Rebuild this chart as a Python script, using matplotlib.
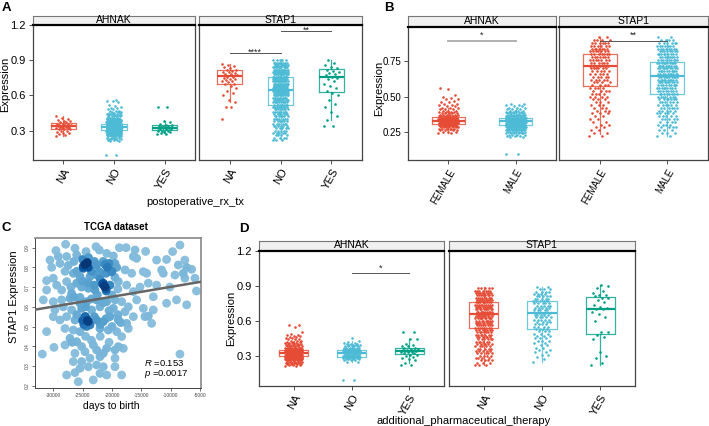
import numpy as np
import matplotlib
matplotlib.use('Agg')
import matplotlib.pyplot as plt
from matplotlib import cm

plt.rcParams['font.family'] = ['Liberation Sans', 'DejaVu Sans']
plt.rcParams['mathtext.fontset'] = 'custom'
plt.rcParams['mathtext.it'] = 'Liberation Sans:italic'
plt.rcParams['mathtext.rm'] = 'Liberation Sans'

# ---------------- data ----------------
genes = ['AHNAK', 'STAP1']
a_groups = ['NA', 'NO', 'YES']
b_groups = ['FEMALE', 'MALE']
d_groups = ['NA', 'NO', 'YES']
col3 = ['#E64B35', '#4DBBD5', '#00A087']

# box stats (whislo, q1, median, q3, whishi)
A_BOX_AHNAK = [(0.25, 0.311, 0.340, 0.363, 0.42), (0.235, 0.306, 0.331, 0.354, 0.425), (0.27, 0.306, 0.326, 0.346, 0.38)]
A_BOX_STAP1 = [(0.54, 0.700, 0.763, 0.817, 0.87), (0.22, 0.517, 0.649, 0.757, 0.91), (0.39, 0.631, 0.757, 0.829, 0.90)]
B_BOX_AHNAK = [(0.24, 0.302, 0.328, 0.352, 0.42), (0.22, 0.295, 0.323, 0.347, 0.42)]
B_BOX_STAP1 = [(0.235, 0.572, 0.714, 0.800, 0.92), (0.22, 0.520, 0.643, 0.748, 0.91)]
D_BOX_AHNAK = [(0.22, 0.297, 0.326, 0.351, 0.43), (0.25, 0.291, 0.326, 0.346, 0.43), (0.24, 0.311, 0.340, 0.369, 0.44)]
D_BOX_STAP1 = [(0.22, 0.537, 0.660, 0.763, 0.89), (0.25, 0.526, 0.671, 0.774, 0.89), (0.22, 0.483, 0.700, 0.806, 0.91)]

# jittered points: explicit values, or (levels, counts)
A_AHNAK_NA = [0.25, 0.26, 0.27, 0.28, 0.28, 0.29, 0.30, 0.30, 0.31, 0.31, 0.31, 0.32, 0.32, 0.32, 0.33, 0.33, 0.33,
              0.33, 0.34, 0.34, 0.34, 0.35, 0.35, 0.35, 0.36, 0.36, 0.36, 0.37, 0.37, 0.38, 0.38, 0.39, 0.40, 0.41, 0.42]
A_AHNAK_NO_LV = [0.09, 0.21, 0.22, 0.23, 0.24, 0.25, 0.26, 0.27, 0.28, 0.29, 0.30, 0.31, 0.32, 0.33, 0.34, 0.35, 0.36,
                 0.37, 0.38, 0.39, 0.40, 0.41, 0.42, 0.43, 0.44, 0.45, 0.46, 0.47, 0.48, 0.49, 0.50, 0.51, 0.52, 0.54, 0.55, 0.56]
A_AHNAK_NO_CT = [2, 2, 3, 4, 5, 7, 9, 11, 14, 17, 20, 22, 24, 24, 22, 20, 17,
                 14, 11, 9, 7, 6, 5, 4, 4, 3, 3, 3, 2, 2, 1, 1, 1, 1, 2, 1]
A_AHNAK_YES = [0.27, 0.27, 0.28, 0.29, 0.29, 0.30, 0.30, 0.30, 0.31, 0.31, 0.31, 0.32, 0.32, 0.32, 0.32, 0.33, 0.33,
               0.33, 0.34, 0.34, 0.34, 0.35, 0.35, 0.36, 0.37, 0.38, 0.50, 0.50]
A_STAP1_NA = [0.40, 0.50, 0.50, 0.54, 0.56, 0.60, 0.62, 0.64, 0.66, 0.68, 0.70, 0.70, 0.71, 0.72, 0.72, 0.73, 0.74, 0.74,
              0.75, 0.76, 0.76, 0.77, 0.78, 0.78, 0.79, 0.80, 0.80, 0.81, 0.82, 0.82, 0.83, 0.84, 0.85, 0.86, 0.87]
A_STAP1_NO_LV = [0.22, 0.24, 0.26, 0.28, 0.30, 0.32, 0.34, 0.36, 0.38, 0.40, 0.42, 0.44, 0.46, 0.48, 0.50, 0.52, 0.54, 0.56,
                 0.58, 0.60, 0.62, 0.64, 0.66, 0.68, 0.70, 0.72, 0.74, 0.76, 0.78, 0.80, 0.82, 0.84, 0.86, 0.88, 0.90]
A_STAP1_NO_CT = [3, 4, 4, 5, 5, 5, 6, 6, 6, 7, 7, 7, 8, 8, 9, 9, 10, 10,
                 11, 12, 12, 13, 13, 14, 14, 14, 14, 14, 14, 13, 13, 12, 11, 9, 5]
A_STAP1_YES = [0.34, 0.34, 0.39, 0.42, 0.46, 0.50, 0.53, 0.56, 0.60, 0.62, 0.64, 0.66, 0.68, 0.70, 0.72, 0.74, 0.75,
               0.76, 0.77, 0.78, 0.79, 0.80, 0.81, 0.82, 0.83, 0.84, 0.86, 0.88, 0.90]

B_AHNAK_F_LV = [0.24, 0.25, 0.26, 0.27, 0.28, 0.29, 0.30, 0.31, 0.32, 0.33, 0.34, 0.35, 0.36, 0.37, 0.38, 0.39, 0.40,
                0.41, 0.42, 0.43, 0.44, 0.45, 0.46, 0.47, 0.48, 0.49, 0.50, 0.51, 0.55, 0.56]
B_AHNAK_F_CT = [2, 3, 4, 6, 7, 9, 11, 12, 13, 13, 12, 10, 8, 6, 5, 4, 3,
                3, 3, 2, 2, 2, 2, 1, 2, 1, 1, 1, 1, 1]
B_AHNAK_M_LV = [0.09, 0.21, 0.22, 0.23, 0.24, 0.25, 0.26, 0.27, 0.28, 0.29, 0.30, 0.31, 0.32, 0.33, 0.34, 0.35, 0.36,
                0.37, 0.38, 0.39, 0.40, 0.41, 0.42, 0.43, 0.44, 0.45]
B_AHNAK_M_CT = [2, 2, 3, 4, 6, 8, 10, 13, 16, 19, 21, 22, 22, 20, 18, 15, 12,
                9, 7, 5, 4, 3, 3, 2, 2, 2]
B_STAP1_LV = [0.22, 0.24, 0.26, 0.28, 0.30, 0.32, 0.34, 0.36, 0.38, 0.40, 0.42, 0.44, 0.46, 0.48, 0.50, 0.52, 0.54, 0.56,
              0.58, 0.60, 0.62, 0.64, 0.66, 0.68, 0.70, 0.72, 0.74, 0.76, 0.78, 0.80, 0.82, 0.84, 0.86, 0.88, 0.90, 0.92]
B_STAP1_F_CT = [2, 2, 2, 2, 2, 2, 2, 2, 3, 3, 3, 3, 3, 3, 4, 4, 4, 4,
                4, 4, 5, 5, 5, 5, 6, 6, 6, 7, 7, 7, 7, 7, 6, 6, 4, 2]
B_STAP1_M_CT = [2, 3, 3, 4, 4, 4, 5, 5, 5, 5, 6, 6, 6, 7, 7, 8, 8, 9,
                9, 10, 10, 10, 10, 10, 10, 10, 10, 9, 9, 9, 8, 8, 7, 6, 4, 2]

D_AHNAK_NA_LV = [0.21, 0.22, 0.23, 0.24, 0.25, 0.26, 0.27, 0.28, 0.29, 0.30, 0.31, 0.32, 0.33, 0.34, 0.35, 0.36, 0.37,
                 0.38, 0.39, 0.40, 0.41, 0.42, 0.43, 0.44, 0.45, 0.46, 0.47, 0.48, 0.49, 0.50, 0.55, 0.56]
D_AHNAK_NA_CT = [2, 3, 4, 6, 8, 10, 13, 16, 18, 20, 21, 21, 20, 18, 15, 12, 9,
                 7, 5, 4, 4, 3, 3, 3, 2, 2, 2, 2, 1, 1, 1, 2]
D_AHNAK_NO_LV = [0.09, 0.25, 0.26, 0.27, 0.28, 0.29, 0.30, 0.31, 0.32, 0.33, 0.34, 0.35, 0.36, 0.37, 0.38, 0.39, 0.40,
                 0.41, 0.42, 0.43, 0.45]
D_AHNAK_NO_CT = [2, 2, 3, 4, 6, 8, 10, 11, 12, 12, 11, 9, 7, 6, 5, 4, 3,
                 2, 1, 1, 1]
D_AHNAK_YES = [0.22, 0.22, 0.24, 0.26, 0.27, 0.28, 0.29, 0.30, 0.31, 0.31, 0.32, 0.32, 0.33, 0.33, 0.33, 0.34, 0.34,
               0.34, 0.35, 0.35, 0.35, 0.36, 0.36, 0.37, 0.37, 0.38, 0.38, 0.39, 0.40, 0.44, 0.44, 0.50, 0.50]
D_STAP1_NA_LV = [0.22, 0.24, 0.26, 0.28, 0.30, 0.32, 0.34, 0.36, 0.38, 0.40, 0.42, 0.44, 0.46, 0.48, 0.50, 0.52, 0.54,
                 0.56, 0.58, 0.60, 0.62, 0.64, 0.66, 0.68, 0.70, 0.72, 0.74, 0.76, 0.78, 0.80, 0.82, 0.84, 0.86, 0.88]
D_STAP1_NA_CT = [3, 3, 4, 4, 4, 5, 5, 5, 5, 6, 6, 6, 6, 7, 7, 7, 8,
                 8, 9, 9, 10, 10, 10, 10, 10, 10, 10, 10, 10, 9, 9, 8, 7, 5]
D_STAP1_NO_LV = [0.25, 0.27, 0.29, 0.31, 0.33, 0.35, 0.37, 0.39, 0.41, 0.43, 0.45, 0.47, 0.49, 0.51, 0.53, 0.55, 0.57,
                 0.59, 0.61, 0.63, 0.65, 0.67, 0.69, 0.71, 0.73, 0.75, 0.77, 0.79, 0.81, 0.83, 0.85, 0.87, 0.89]
D_STAP1_NO_CT = [1, 1, 1, 2, 2, 2, 2, 2, 2, 3, 3, 3, 3, 3, 4, 4, 4,
                 4, 5, 5, 5, 5, 5, 5, 5, 5, 5, 5, 5, 4, 4, 3, 2]
D_STAP1_YES = [0.22, 0.24, 0.28, 0.30, 0.33, 0.44, 0.46, 0.48, 0.50, 0.50, 0.60, 0.63, 0.66, 0.68, 0.70, 0.70, 0.71,
               0.72, 0.74, 0.76, 0.78, 0.80, 0.80, 0.81, 0.82, 0.82, 0.84, 0.86, 0.88, 0.90, 0.91]

# panel C scatter: days to birth vs STAP1 expression
c_days = [-27900, -26300, -29550, -30570, -18750, -17600, -16080, -14270, -8420, -9670, -22160, -22730, -24430,
          -20900, -19770, -29150, -27730, -26020, -16360, -10700, -7580, -12400, -15800,
          -30280, -28860, -27440, -24320, -24030, -24880, -22620, -19490, -19200, -20060, -17780, -16650, -14660,
          -14100, -11540, -11260, -8700, -7280, -6430, -7850, -9270, -26590, -22160, -25450, -23750,
          -31140, -30000, -29430, -27730, -26020, -25170, -24030, -21480, -21190, -20340, -22900, -18920, -17500,
          -16360, -15230, -13810, -12400, -10130, -7580, -5860, -5600, -31140, -28580, -26880, -12960, -10700,
          -9000, -7280,
          -31700, -30000, -28580, -27160, -25450, -24320, -22620, -20910, -19490, -18350, -17220, -15800, -14660,
          -12960, -29720, -28300, -26880, -25170, -23470, -22050, -19770, -17780, -16360, -14380, -13810, -13240,
          -31140, -30000, -28860, -27730, -26310, -24600, -24030, -24320, -23750, -22620, -21480, -20340, -18920,
          -17500, -28010, -26590, -25450, -22050, -20630, -19200, -18350, -17220,
          -31870, -29890, -28010, -27160, -26020, -25170, -24600, -23190, -22620, -22050, -21480, -20910, -19490,
          -18920, -18070, -19490, -8420, -26310, -23750,
          -26590, -25170, -24030, -22620, -21480, -27730, -26310, -25740, -23190, -22050, -20910, -19490, -18350,
          -25450,
          -25000, -24000, -23000, -21500, -20500, -26000, -23500, -22500, -21000, -19500, -25000, -24000, -23000,
          -22000, -21000, -20000, -19000, -26500, -25500, -24500, -23500, -22500, -21500, -20500, -19000, -26000,
          -25000, -24500, -23000, -22000, -21000, -20000, -18500, -24800, -24200, -24600, -24200, -24900, -21300,
          -21600, -21000, -20800, -21200, -20000, -27000, -28000, -26500, -22000, -23500, -24500, -26800, -20500]
c_expr = [0.917, 0.897, 0.885, 0.837, 0.900, 0.900, 0.888, 0.881, 0.913, 0.880, 0.888, 0.905, 0.880,
          0.871, 0.858, 0.855, 0.855, 0.863, 0.855, 0.840, 0.837, 0.837, 0.846,
          0.800, 0.820, 0.810, 0.820, 0.800, 0.795, 0.812, 0.820, 0.800, 0.778, 0.787, 0.770, 0.778,
          0.770, 0.787, 0.770, 0.812, 0.800, 0.790, 0.770, 0.761, 0.770, 0.778, 0.753, 0.753,
          0.733, 0.745, 0.710, 0.728, 0.720, 0.700, 0.694, 0.720, 0.700, 0.710, 0.685, 0.728, 0.710,
          0.677, 0.700, 0.720, 0.710, 0.700, 0.745, 0.745, 0.680, 0.685, 0.685, 0.668, 0.651, 0.618,
          0.635, 0.610,
          0.635, 0.626, 0.635, 0.643, 0.648, 0.626, 0.635, 0.626, 0.635, 0.626, 0.600, 0.635, 0.592,
          0.584, 0.584, 0.600, 0.584, 0.592, 0.584, 0.600, 0.592, 0.575, 0.550, 0.550, 0.553, 0.516,
          0.474, 0.550, 0.533, 0.550, 0.533, 0.550, 0.525, 0.500, 0.508, 0.533, 0.525, 0.550, 0.533,
          0.516, 0.490, 0.482, 0.474, 0.490, 0.482, 0.474, 0.449, 0.490,
          0.360, 0.394, 0.406, 0.440, 0.423, 0.398, 0.372, 0.406, 0.381, 0.347, 0.364, 0.389, 0.381,
          0.398, 0.389, 0.339, 0.360, 0.364, 0.339,
          0.322, 0.322, 0.296, 0.305, 0.296, 0.254, 0.266, 0.220, 0.229, 0.262, 0.254, 0.296, 0.254,
          0.288,
          0.840, 0.850, 0.830, 0.830, 0.820, 0.780, 0.780, 0.760, 0.770, 0.750, 0.730, 0.720, 0.710,
          0.740, 0.680, 0.660, 0.690, 0.650, 0.620, 0.600, 0.640, 0.660, 0.620, 0.580, 0.560, 0.560,
          0.530, 0.550, 0.550, 0.510, 0.540, 0.500, 0.520, 0.510, 0.530, 0.815, 0.825, 0.805, 0.705,
          0.715, 0.690, 0.800, 0.815, 0.780, 0.700, 0.780, 0.830, 0.450, 0.430, 0.450, 0.420, 0.420]
c_fit_slope = 5.0e-6
c_fit_intercept = 0.751
c_R = '0.153'
c_p = '0.0017'

# ---------------- helpers ----------------
W, H = 709, 426
PT = 0.72  # points per pixel at dpi 100
fig = plt.figure(figsize=(W / 100, H / 100), dpi=100)


def ax_px(x0, y0, x1, y1):
    return fig.add_axes([x0 / W, 1 - y1 / H, (x1 - x0) / W, (y1 - y0) / H])


def expand(lv, ct):
    return np.repeat(np.asarray(lv, float), np.asarray(ct))


def facet(x0, x1, ys0, ys1, yb, title, boxes, pts, xlim, ylim, xlabels, yticks=None, yticklabels=None,
          tfs=8, yfam=None):
    st = ax_px(x0, ys0, x1, ys1)
    ax = ax_px(x0, ys1, x1, yb)
    st.set_facecolor('#F0F0F0')
    st.set_xticks([]); st.set_yticks([])
    for s in st.spines.values():
        s.set_color('#777'); s.set_linewidth(0.8)
    st.text(0.5, 0.55, title, ha='center', va='center', fontsize=7.5, transform=st.transAxes)
    n = len(boxes)
    for i in range(n):
        c = col3[i]
        pos = i + 1
        lo, q1, med, q3, hi = boxes[i]
        ax.bxp([dict(whislo=lo, q1=q1, med=med, q3=q3, whishi=hi, fliers=[])], positions=[pos], widths=0.5,
               showcaps=False, showfliers=False, manage_ticks=False,
               boxprops=dict(color=c, lw=0.9, alpha=0.8), whiskerprops=dict(color=c, lw=0.9, alpha=0.8),
               medianprops=dict(color=c, lw=1.6))
        v = np.asarray(pts[i], float)
        k = len(v)
        off = ((np.arange(k) * 0.6180339887) % 1 - 0.5) * 0.30
        ax.scatter(pos + off, v, s=3.5, color=c, lw=0, zorder=3)
    ax.set_xlim(*xlim)
    ax.set_ylim(*ylim)
    ax.set_xticks(range(1, n + 1))
    ax.set_xticklabels(xlabels, rotation=60, ha='right', va='top', rotation_mode='anchor', fontsize=tfs)
    if yticks is not None:
        ax.set_yticks(yticks)
        if yfam:
            ax.set_yticklabels(yticklabels, fontsize=tfs, family=yfam)
        else:
            ax.set_yticklabels(yticklabels, fontsize=tfs)
    else:
        ax.set_yticks([])
    ax.tick_params(length=3, width=0.6, color='#333', pad=2)
    for s in ax.spines.values():
        s.set_color('#444'); s.set_linewidth(0.9)
    ax.spines['top'].set_color('black'); ax.spines['top'].set_linewidth(1.6)
    return ax


def sig(ax, x1, x2, y, label, off_px, color='#555', lw=0.7):
    ax.plot([x1, x2], [y, y], color=color, lw=lw, zorder=4)
    ax.annotate(label, xy=((x1 + x2) / 2, y), xytext=(0, off_px * PT), textcoords='offset points',
                ha='center', va='baseline', fontsize=6.5, color='#222', zorder=5)


# ---------------- panel A ----------------
yt = [0.3, 0.6, 0.9, 1.2]
ytl = ['0.3', '0.6', '0.9', '1.2']
axA1 = facet(33, 195, 16, 25, 160, genes[0], A_BOX_AHNAK,
             [A_AHNAK_NA, expand(A_AHNAK_NO_LV, A_AHNAK_NO_CT), A_AHNAK_YES],
             (0.4, 3.6), (0.049, 1.2), a_groups, yt, ytl)
axA2 = facet(199, 362, 16, 25, 160, genes[1], A_BOX_STAP1,
             [A_STAP1_NA, expand(A_STAP1_NO_LV, A_STAP1_NO_CT), A_STAP1_YES],
             (0.4, 3.6), (0.049, 1.2), a_groups)
sig(axA2, 1, 2, 0.963, '****', -2)
sig(axA2, 2, 3, 1.149, '**', -2)
fig.text(5 / W, 1 - 84 / H, 'Expression', rotation=90, ha='center', va='center', fontsize=8)
fig.text(195 / W, 1 - 202 / H, 'postoperative_rx_tx', ha='center', va='center', fontsize=8)

# ---------------- panel B ----------------
narrow = ['Liberation Sans Narrow', 'Liberation Sans', 'DejaVu Sans']
axB1 = facet(408, 556, 16, 27, 160, genes[0], B_BOX_AHNAK,
             [expand(B_AHNAK_F_LV, B_AHNAK_F_CT), expand(B_AHNAK_M_LV, B_AHNAK_M_CT)],
             (0.4, 2.6), (0.049, 0.994), b_groups, [0.25, 0.50, 0.75], ['0.25', '0.50', '0.75'],
             tfs=7, yfam=narrow)
axB2 = facet(559, 708, 16, 27, 160, genes[1], B_BOX_STAP1,
             [expand(B_STAP1_LV, B_STAP1_F_CT), expand(B_STAP1_LV, B_STAP1_M_CT)],
             (0.4, 2.6), (0.049, 0.994), b_groups, tfs=7)
sig(axB1, 1, 2, 0.896, '*', 3, color='#AAAAAA', lw=1.3)
sig(axB2, 1, 2, 0.896, '**', 3)
fig.text(379 / W, 1 - 88 / H, 'Expression', rotation=90, ha='center', va='center', fontsize=8)

# ---------------- panel C ----------------
axC = ax_px(35, 238, 201, 388)
cx = np.asarray(c_days, float)
cy = np.asarray(c_expr, float)
xs = (cx - cx.min()) / (cx.max() - cx.min())
ys = (cy - cy.min()) / (cy.max() - cy.min())
dens = np.exp(-((xs[:, None] - xs[None, :]) ** 2 + (ys[:, None] - ys[None, :]) ** 2) / (2 * 0.035 ** 2)).sum(1)
dn = (dens - dens.min()) / (dens.max() - dens.min())
order = np.argsort(dn)
colsC = cm.Blues(0.42 + 0.56 * dn[order] ** 2.2)
axC.scatter(cx[order], cy[order], s=40, c=colsC, lw=0, zorder=2)
xl = (-33120, -4830)
axC.set_xlim(*xl)
axC.set_ylim(0.188, 0.949)
xx = np.array(xl, float)
axC.plot(xx, c_fit_intercept + c_fit_slope * xx, color='#666', lw=1.8, zorder=3)
axC.set_xticks([-30000, -25000, -20000, -15000, -10000, -5000])
axC.set_xticklabels(['-30000', '-25000', '-20000', '-15000', '-10000', '-5000'], fontsize=3.5)
axC.set_yticks([0.2, 0.3, 0.4, 0.5, 0.6, 0.7, 0.8, 0.9])
axC.set_yticklabels(['0.2', '0.3', '0.4', '0.5', '0.6', '0.7', '0.8', '0.9'], fontsize=3.5, rotation=90, va='center')
axC.tick_params(length=2, width=0.5, color='#333', pad=1.5, labelcolor='#444')
for s in axC.spines.values():
    s.set_color('#888'); s.set_linewidth(1.2)
axC.spines['left'].set_color('#444'); axC.spines['bottom'].set_color('#444')
axC.spines['left'].set_linewidth(0.7); axC.spines['bottom'].set_linewidth(0.7)
axC.text(0.655, 0.165, r'$R$ =' + c_R, transform=axC.transAxes, fontsize=6.8, ha='left', va='center', zorder=6)
axC.text(0.655, 0.09, r'$p$ =' + c_p, transform=axC.transAxes, fontsize=6.8, ha='left', va='center', zorder=6)
fig.text(116 / W, 1 - 227 / H, 'TCGA dataset', ha='center', va='center', fontsize=7, fontweight='bold')
fig.text(111 / W, 1 - 406 / H, 'days to birth', ha='center', va='center', fontsize=7.5)
fig.text(14 / W, 1 - 297 / H, 'STAP1 Expression', rotation=90, ha='center', va='center', fontsize=8)

# ---------------- panel D ----------------
axD1 = facet(259, 444, 241, 251, 386, genes[0], D_BOX_AHNAK,
             [expand(D_AHNAK_NA_LV, D_AHNAK_NA_CT), expand(D_AHNAK_NO_LV, D_AHNAK_NO_CT), D_AHNAK_YES],
             (0.4, 3.6), (0.04, 1.2), d_groups, yt, ytl)
axD2 = facet(449, 635, 241, 251, 386, genes[1], D_BOX_STAP1,
             [expand(D_STAP1_NA_LV, D_STAP1_NA_CT), expand(D_STAP1_NO_LV, D_STAP1_NO_CT), D_STAP1_YES],
             (0.4, 3.6), (0.04, 1.2), d_groups)
sig(axD1, 2, 3, 1.015, '*', 2)
fig.text(231 / W, 1 - 318 / H, 'Expression', rotation=90, ha='center', va='center', fontsize=8)
fig.text(464 / W, 1 - 421 / H, 'additional_pharmaceutical_therapy', ha='center', va='center', fontsize=8)

# ---------------- panel letters ----------------
for lab, px, py in [('A', 6, 8), ('B', 389, 8), ('C', 6, 228), ('D', 244, 229)]:
    fig.text(px / W, 1 - py / H, lab, ha='center', va='center', fontsize=9.5, fontweight='bold')

fig.savefig('out.png', dpi=100)
